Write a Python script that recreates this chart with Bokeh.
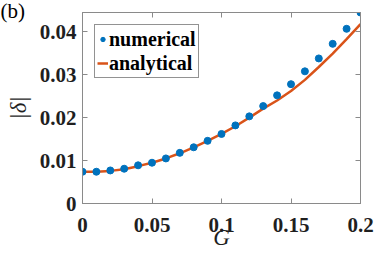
from bokeh.plotting import figure
from bokeh.models import LinearAxis, Range1d, FixedTicker, Legend, LegendItem, Title
from bokeh.embed import file_html
from bokeh.resources import INLINE

# data
G_num = [0.0, 0.01, 0.02, 0.03, 0.04, 0.05, 0.06, 0.07, 0.08, 0.09, 0.10,
         0.11, 0.12, 0.13, 0.14, 0.15, 0.16, 0.17, 0.18, 0.19, 0.20]
delta_num = [0.0074, 0.0074, 0.0077, 0.0081, 0.0089, 0.0095, 0.0105, 0.0118, 0.0131, 0.0146, 0.0162,
             0.0182, 0.0203, 0.0227, 0.0252, 0.0278, 0.0308, 0.0338, 0.0372, 0.0407, 0.0445]
G_ana = [0.0, 0.01, 0.02, 0.03, 0.04, 0.05, 0.06, 0.07, 0.08, 0.09, 0.10,
         0.11, 0.12, 0.13, 0.14, 0.15, 0.16, 0.17, 0.18, 0.19, 0.20]
delta_ana = [0.0074, 0.0074, 0.0076, 0.0080, 0.0087, 0.0095, 0.0105, 0.0117, 0.0131, 0.0146, 0.0162,
             0.0180, 0.0200, 0.0221, 0.0240, 0.0262, 0.0288, 0.0318, 0.0349, 0.0383, 0.0418]
x_ticks = [0, 0.05, 0.1, 0.15, 0.2]
x_tick_labels = ["0", "0.05", "0.1", "0.15", "0.2"]
y_ticks = [0, 0.01, 0.02, 0.03, 0.04]
y_tick_labels = ["0", "0.01", "0.02", "0.03", "0.04"]

FONT = "Liberation Serif"
AX = "#8a8a8a"
TXT = "#1f1f1f"
BLUE = "#0072BD"
ORANGE = "#D95319"

p = figure(width=374, height=253, output_backend="svg", toolbar_location=None,
           x_range=Range1d(0, 0.2), y_range=Range1d(0, 0.0445),
           min_border_left=82, min_border_right=14, min_border_top=12, min_border_bottom=50)
p.grid.visible = False
p.outline_line_color = AX

ln = p.line(G_ana, delta_ana, line_color=ORANGE, line_width=2.5)
sc = p.scatter(G_num, delta_num, size=7, fill_color=BLUE, line_color=BLUE)

def style(ax, ticks, labels, show):
    ax.ticker = FixedTicker(ticks=ticks)
    ax.minor_tick_line_color = None
    ax.major_tick_in = 5
    ax.major_tick_out = 0
    ax.major_tick_line_color = AX
    ax.axis_line_color = AX
    if show:
        ax.major_label_overrides = {t: l for t, l in zip(ticks, labels)}
        ax.major_label_text_font = FONT
        ax.major_label_text_font_style = "bold"
        ax.major_label_text_font_size = "21px"
        ax.major_label_text_color = TXT
    else:
        ax.major_label_overrides = {t: "" for t in ticks}
        ax.major_label_text_font_size = "1px"
        ax.major_label_standoff = 0

style(p.xaxis[0], x_ticks, x_tick_labels, True)
style(p.yaxis[0], y_ticks, y_tick_labels, True)
p.xaxis[0].major_label_standoff = 14
p.yaxis[0].major_label_standoff = 6
p.yaxis[0].axis_label = "|δ|"
p.xaxis[0].axis_label = "G"
for ax in (p.xaxis[0], p.yaxis[0]):
    ax.axis_label_text_font = FONT
    ax.axis_label_text_font_style = "italic"
    ax.axis_label_text_font_size = "23px"
    ax.axis_label_text_color = TXT
p.yaxis[0].axis_label_standoff = 6
p.xaxis[0].axis_label_standoff = -10

top = LinearAxis()
right = LinearAxis()
style(top, x_ticks, x_tick_labels, False)
style(right, y_ticks, y_tick_labels, False)
p.add_layout(top, "above")
p.add_layout(right, "right")

legend = Legend(items=[LegendItem(label="numerical", renderers=[sc]),
                       LegendItem(label="analytical", renderers=[ln])],
                location="top_left")
legend.margin = 12
legend.padding = 2
legend.spacing = 0
legend.glyph_width = 11
legend.glyph_height = 24
legend.label_height = 24
legend.label_standoff = 1
legend.label_text_font = FONT
legend.label_text_font_style = "bold"
legend.label_text_font_size = "20px"
legend.label_text_color = "black"
legend.border_line_color = "#262626"
legend.border_line_width = 1
p.add_layout(legend)

t = Title(text="(b)", align="left", offset=-82, standoff=-20,
          text_font=FONT, text_font_style="normal", text_font_size="21px", text_color="black")
p.add_layout(t, "above")

open("out.html", "w").write(file_html(p, INLINE))
